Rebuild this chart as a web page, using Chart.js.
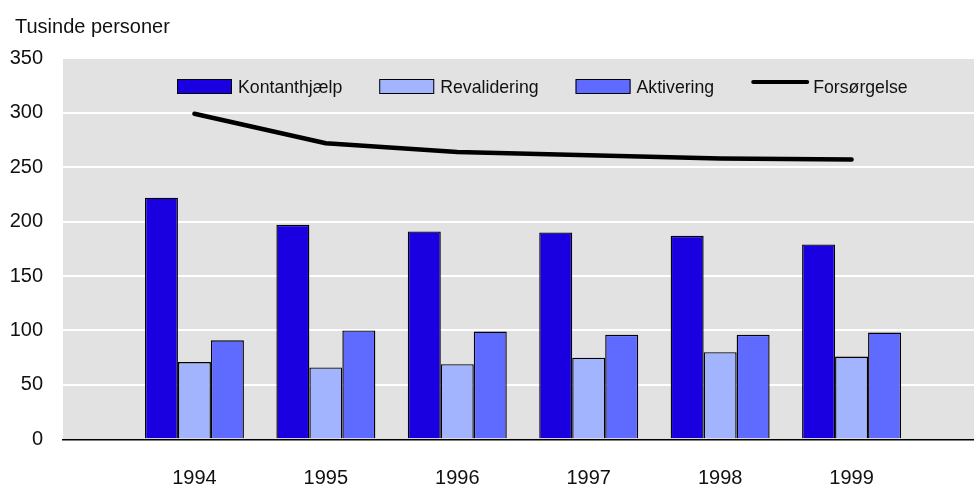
<!DOCTYPE html>
<html><head><meta charset="utf-8">
<script src="https://cdn.jsdelivr.net/npm/chart.js@4"></script>
<style>
html,body{margin:0;padding:0;overflow:hidden;background:#fff;width:974px;height:484px}
#wrap{position:absolute;left:0;top:0;width:983px;height:484px}
</style></head><body>
<div id="wrap"><canvas id="c"></canvas></div>
<script>
const categories = ['1994','1995','1996','1997','1998','1999'];
const kontanthjaelp = [222, 197, 191, 190, 187, 179];
const revalidering  = [71, 66, 69, 75, 80, 76];
const aktivering    = [91, 100, 99, 96, 96, 98];
const forsorgelse   = [299, 272, 264, 261, 258, 257];
const yTicks = [0, 50, 100, 150, 200, 250, 300, 350];
const seriesNames = ['Kontanthjælp', 'Revalidering', 'Aktivering', 'Forsørgelse'];
const yTitle = 'Tusinde personer';

const FONT = '"Liberation Sans", Arial, Helvetica, sans-serif';
const pad = arr => [null, ...arr, null];
const labels = ['', ...categories, ''];

const bgPlugin = {
  id: 'plotBg',
  beforeDraw(chart) {
    const {ctx, chartArea: a} = chart;
    ctx.save();
    ctx.fillStyle = '#e2e2e2';
    ctx.fillRect(a.left, a.top, a.right - a.left, a.bottom - a.top);
    ctx.restore();
  }
};

const titlePlugin = {
  id: 'unitTitle',
  afterDraw(chart) {
    const ctx = chart.ctx;
    ctx.save();
    ctx.font = '20px ' + FONT;
    ctx.fillStyle = '#111';
    ctx.textAlign = 'left';
    ctx.textBaseline = 'alphabetic';
    ctx.fillText(yTitle, 15, 33);
    ctx.restore();
  }
};

const legendPlugin = {
  id: 'customLegend',
  afterDraw(chart) {
    const ctx = chart.ctx;
    ctx.save();
    ctx.font = '17.7px ' + FONT;
    ctx.textBaseline = 'alphabetic';
    ctx.textAlign = 'left';
    let x = 177;
    chart.data.datasets.forEach(ds => {
      if (ds.type === 'line') {
        ctx.strokeStyle = ds.borderColor;
        ctx.lineWidth = 4;
        ctx.lineCap = 'round';
        ctx.beginPath();
        ctx.moveTo(x + 2, 82);
        ctx.lineTo(x + 56, 82);
        ctx.stroke();
        ctx.fillStyle = '#111';
        ctx.fillText(ds.label, x + 62, 93);
        x += 62 + ctx.measureText(ds.label).width + 37;
      } else {
        ctx.fillStyle = ds.backgroundColor;
        ctx.fillRect(x, 79.5, 55, 14);
        ctx.strokeStyle = '#000';
        ctx.lineWidth = 1;
        ctx.strokeRect(x + 0.5, 79.5, 54, 14);
        ctx.fillStyle = '#111';
        ctx.fillText(ds.label, x + 61, 93);
        x += 61 + ctx.measureText(ds.label).width + 37;
      }
    });
    ctx.restore();
  }
};

const barCommon = { borderColor: '#000', borderWidth: 1.4, categoryPercentage: 0.753, barPercentage: 1 };

new Chart(document.getElementById('c'), {
  type: 'bar',
  data: {
    labels: labels,
    datasets: [
      Object.assign({ label: seriesNames[0], data: pad(kontanthjaelp), backgroundColor: '#1a00e0' }, barCommon),
      Object.assign({ label: seriesNames[1], data: pad(revalidering), backgroundColor: '#a3b4ff' }, barCommon),
      Object.assign({ label: seriesNames[2], data: pad(aktivering), backgroundColor: '#5f6aff' }, barCommon),
      { type: 'line', label: seriesNames[3], data: pad(forsorgelse), borderColor: '#000', borderWidth: 4.5,
        pointRadius: 0, borderCapStyle: 'round', borderJoinStyle: 'round', tension: 0, fill: false }
    ]
  },
  options: {
    responsive: true,
    maintainAspectRatio: false,
    animation: false,
    layout: { padding: { left: 8, right: 0, top: 58.3, bottom: 0 } },
    plugins: {
      legend: { display: false },
      tooltip: { enabled: false },
      title: { display: false }
    },
    scales: {
      x: {
        offset: false,
        grid: { display: false, drawTicks: false },
        border: { display: true, color: '#000', width: 1.5 },
        ticks: { color: '#111', font: { family: FONT, size: 20 }, padding: 27, maxRotation: 0, autoSkip: false },
        afterFit(s) { s.height = 44.7; s.paddingLeft = 0; s.paddingRight = 0; }
      },
      y: {
        min: yTicks[0], max: yTicks[yTicks.length - 1],
        afterBuildTicks(s) { s.ticks = yTicks.map(v => ({ value: v })); },
        grid: {
          drawTicks: false, lineWidth: 2,
          color: c => (c.tick && c.tick.value === 0) ? 'rgba(0,0,0,0)' : '#ffffff'
        },
        border: { display: false },
        ticks: { color: '#111', font: { family: FONT, size: 20 }, padding: 20 },
        afterFit(s) { s.width = 55; s.paddingTop = 0; s.paddingBottom = 0; }
      }
    }
  },
  plugins: [bgPlugin, titlePlugin, legendPlugin]
});
</script>
</body></html>
